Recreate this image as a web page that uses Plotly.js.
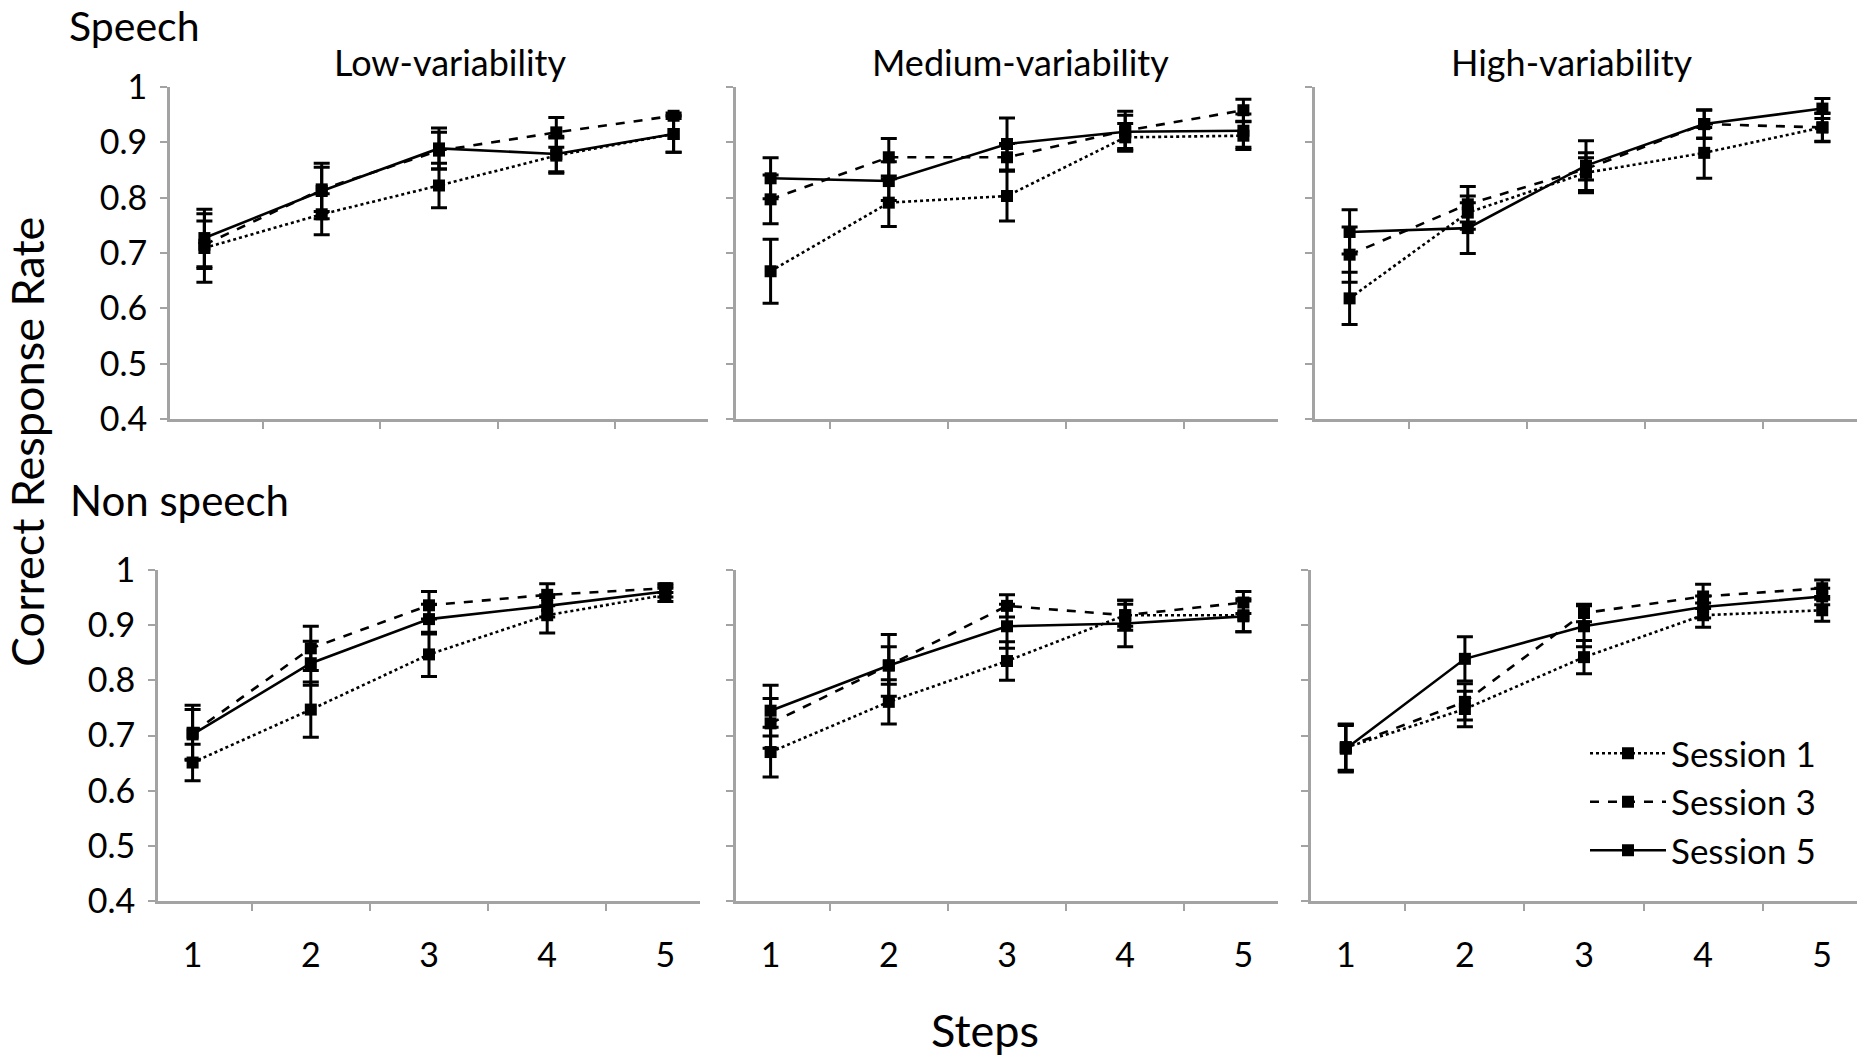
<!DOCTYPE html>
<html>
<head>
<meta charset="utf-8">
<script src="https://cdn.plot.ly/plotly-3.0.1.min.js"></script>
<style>
  html, body { margin: 0; padding: 0; background: #fff; }
  #chart { width: 1866px; height: 1063px; }
</style>
</head>
<body>
<div id="chart"></div>
<script>
// Values: correct response rate per step, with error bars
const steps = ['1', '2', '3', '4', '5'];
const sessionNames = ['Session 1', 'Session 3', 'Session 5'];
const panelTitles = ['Low-variability', 'Medium-variability', 'High-variability'];
const rowTitles = ['Speech', 'Non speech'];
const yTicks = [0.4, 0.5, 0.6, 0.7, 0.8, 0.9, 1];

// Speech
const speechLowS1 = [0.709, 0.770, 0.822, 0.876, 0.915];
const speechLowS1Err = [0.062, 0.037, 0.040, 0.032, 0.033];
const speechLowS3 = [0.715, 0.815, 0.885, 0.918, 0.948];
const speechLowS3Err = [0.043, 0.040, 0.033, 0.027, 0.005];
const speechLowS5 = [0.727, 0.812, 0.889, 0.879, 0.915];
const speechLowS5Err = [0.052, 0.050, 0.037, 0.032, 0.033];

const speechMedS1 = [0.667, 0.791, 0.803, 0.909, 0.912];
const speechMedS1Err = [0.058, 0.043, 0.045, 0.025, 0.025];
const speechMedS3 = [0.797, 0.873, 0.873, 0.921, 0.958];
const speechMedS3Err = [0.044, 0.034, 0.025, 0.035, 0.020];
const speechMedS5 = [0.835, 0.830, 0.897, 0.919, 0.921];
const speechMedS5Err = [0.037, 0.035, 0.047, 0.030, 0.030];

const speechHighS1 = [0.618, 0.773, 0.845, 0.881, 0.927];
const speechHighS1Err = [0.047, 0.030, 0.036, 0.046, 0.026];
const speechHighS3 = [0.697, 0.788, 0.852, 0.933, 0.927];
const speechHighS3Err = [0.050, 0.032, 0.020, 0.025, 0.025];
const speechHighS5 = [0.738, 0.745, 0.858, 0.933, 0.961];
const speechHighS5Err = [0.040, 0.046, 0.045, 0.026, 0.018];

// Non speech
const nonLowS1 = [0.651, 0.747, 0.847, 0.918, 0.955];
const nonLowS1Err = [0.033, 0.050, 0.040, 0.032, 0.012];
const nonLowS3 = [0.705, 0.858, 0.936, 0.955, 0.967];
const nonLowS3Err = [0.050, 0.040, 0.025, 0.020, 0.008];
const nonLowS5 = [0.702, 0.831, 0.911, 0.935, 0.961];
const nonLowS5Err = [0.045, 0.040, 0.027, 0.020, 0.010];

const nonMedS1 = [0.670, 0.761, 0.835, 0.918, 0.918];
const nonMedS1Err = [0.045, 0.040, 0.035, 0.020, 0.030];
const nonMedS3 = [0.722, 0.827, 0.935, 0.918, 0.941];
const nonMedS3Err = [0.045, 0.034, 0.020, 0.027, 0.020];
const nonMedS5 = [0.745, 0.827, 0.898, 0.903, 0.916];
const nonMedS5Err = [0.046, 0.056, 0.040, 0.042, 0.028];

const nonHighS1 = [0.678, 0.748, 0.842, 0.918, 0.927];
const nonHighS1Err = [0.042, 0.032, 0.030, 0.022, 0.020];
const nonHighS3 = [0.679, 0.761, 0.922, 0.952, 0.967];
const nonHighS3Err = [0.042, 0.033, 0.016, 0.022, 0.015];
const nonHighS5 = [0.676, 0.839, 0.898, 0.933, 0.952];
const nonHighS5Err = [0.042, 0.040, 0.037, 0.020, 0.015];

// panels in reading order: [row][col] -> [[S1, err], [S3, err], [S5, err]]
const panels = [
    [
        [[speechLowS1, speechLowS1Err], [speechLowS3, speechLowS3Err], [speechLowS5, speechLowS5Err]],
        [[speechMedS1, speechMedS1Err], [speechMedS3, speechMedS3Err], [speechMedS5, speechMedS5Err]],
        [[speechHighS1, speechHighS1Err], [speechHighS3, speechHighS3Err], [speechHighS5, speechHighS5Err]]
    ],
    [
        [[nonLowS1, nonLowS1Err], [nonLowS3, nonLowS3Err], [nonLowS5, nonLowS5Err]],
        [[nonMedS1, nonMedS1Err], [nonMedS3, nonMedS3Err], [nonMedS5, nonMedS5Err]],
        [[nonHighS1, nonHighS1Err], [nonHighS3, nonHighS3Err], [nonHighS5, nonHighS5Err]]
    ]
];

const W = 1866, H = 1063;
const FONT = 'Lato, "Open Sans", sans-serif';
const AXIS_GREY = '#a3a3a3';
const dashes = ['dot', 'dash', 'solid'];

// plot areas in pixels (the panels were pasted by hand, rows do not line up exactly)
const colPx = [
    [[170, 708], [736, 1278], [1315, 1857]],
    [[158, 700], [736, 1278], [1311, 1857]]
];
const rowPx = [[87, 419], [570, 901]];
const titleXPx = [450, 1020, 1572];

const px = v => v / W;
const py = v => 1 - v / H;

const data = [];
const layout = {
    width: W, height: H,
    margin: { t: 0, b: 0, l: 0, r: 0 },
    paper_bgcolor: '#fff',
    plot_bgcolor: '#fff',
    font: { family: FONT, color: '#000', size: 31 },
    showlegend: true,
    legend: {
        x: px(1585), y: py(724), xanchor: 'left', yanchor: 'top',
        font: { family: FONT, size: 35, color: '#000' },
        itemwidth: 76,
        bgcolor: 'rgba(0,0,0,0)'
    },
    annotations: []
};

panels.forEach((row, r) => {
    row.forEach((panel, c) => {
        const idx = r * 3 + c + 1;
        const sfx = idx === 1 ? '' : String(idx);

        layout['xaxis' + sfx] = {
            domain: [px(colPx[r][c][0]), px(colPx[r][c][1])],
            anchor: 'y' + sfx,
            type: 'category',
            tickson: 'boundaries',
            ticks: 'outside', ticklen: 7, tickwidth: 2, tickcolor: AXIS_GREY,
            showline: true, linecolor: AXIS_GREY, linewidth: 3,
            showgrid: false, zeroline: false,
            showticklabels: r === 1,
            ticklabelstandoff: 22,
            tickfont: { family: FONT, size: 34, color: '#000' },
            fixedrange: true
        };
        layout['yaxis' + sfx] = {
            domain: [py(rowPx[r][1]), py(rowPx[r][0])],
            anchor: 'x' + sfx,
            range: [0.4, 1],
            tickvals: yTicks,
            ticktext: yTicks.map(v => String(v)),
            ticks: 'outside', ticklen: 7, tickwidth: 2, tickcolor: AXIS_GREY,
            showline: true, linecolor: AXIS_GREY, linewidth: 3,
            showgrid: false, zeroline: false,
            showticklabels: c === 0,
            ticklabelstandoff: 6,
            tickfont: { family: FONT, size: 34, color: '#000' },
            fixedrange: true
        };

        panel.forEach(([vals, errs], s) => {
            data.push({
                type: 'scatter',
                mode: 'lines+markers',
                name: sessionNames[s],
                x: steps,
                y: vals,
                xaxis: 'x' + sfx,
                yaxis: 'y' + sfx,
                line: { color: '#000', width: 2.6, dash: dashes[s] },
                marker: { symbol: 'square', size: 12, color: '#000' },
                error_y: { type: 'data', array: errs, visible: true, color: '#000', thickness: 3, width: 8 },
                showlegend: idx === 6,
                legendrank: s
            });
        });

        if (r === 0) {
            layout.annotations.push({
                xref: 'paper', yref: 'paper',
                x: px(titleXPx[c]), y: py(62),
                text: panelTitles[c], showarrow: false,
                xanchor: 'center', yanchor: 'middle',
                font: { family: FONT, size: 36, color: '#000' }
            });
        }
    });
});

// row titles and shared axis titles
layout.annotations.push(
    { xref: 'paper', yref: 'paper', x: px(68), y: 1, text: rowTitles[0], showarrow: false,
      xanchor: 'left', yanchor: 'top', borderpad: 0, font: { family: FONT, size: 41, color: '#000' } },
    { xref: 'paper', yref: 'paper', x: px(68), y: py(500), text: rowTitles[1], showarrow: false,
      xanchor: 'left', yanchor: 'middle', font: { family: FONT, size: 42, color: '#000' } },
    { xref: 'paper', yref: 'paper', x: px(27), y: py(442), text: 'Correct Response Rate', showarrow: false,
      textangle: -90, xanchor: 'center', yanchor: 'middle', font: { family: FONT, size: 45, color: '#000' } },
    { xref: 'paper', yref: 'paper', x: px(985), y: py(1030), text: 'Steps', showarrow: false,
      xanchor: 'center', yanchor: 'middle', font: { family: FONT, size: 45, color: '#000' } }
);

Plotly.newPlot('chart', data, layout, { displayModeBar: false, staticPlot: true });
</script>
</body>
</html>
